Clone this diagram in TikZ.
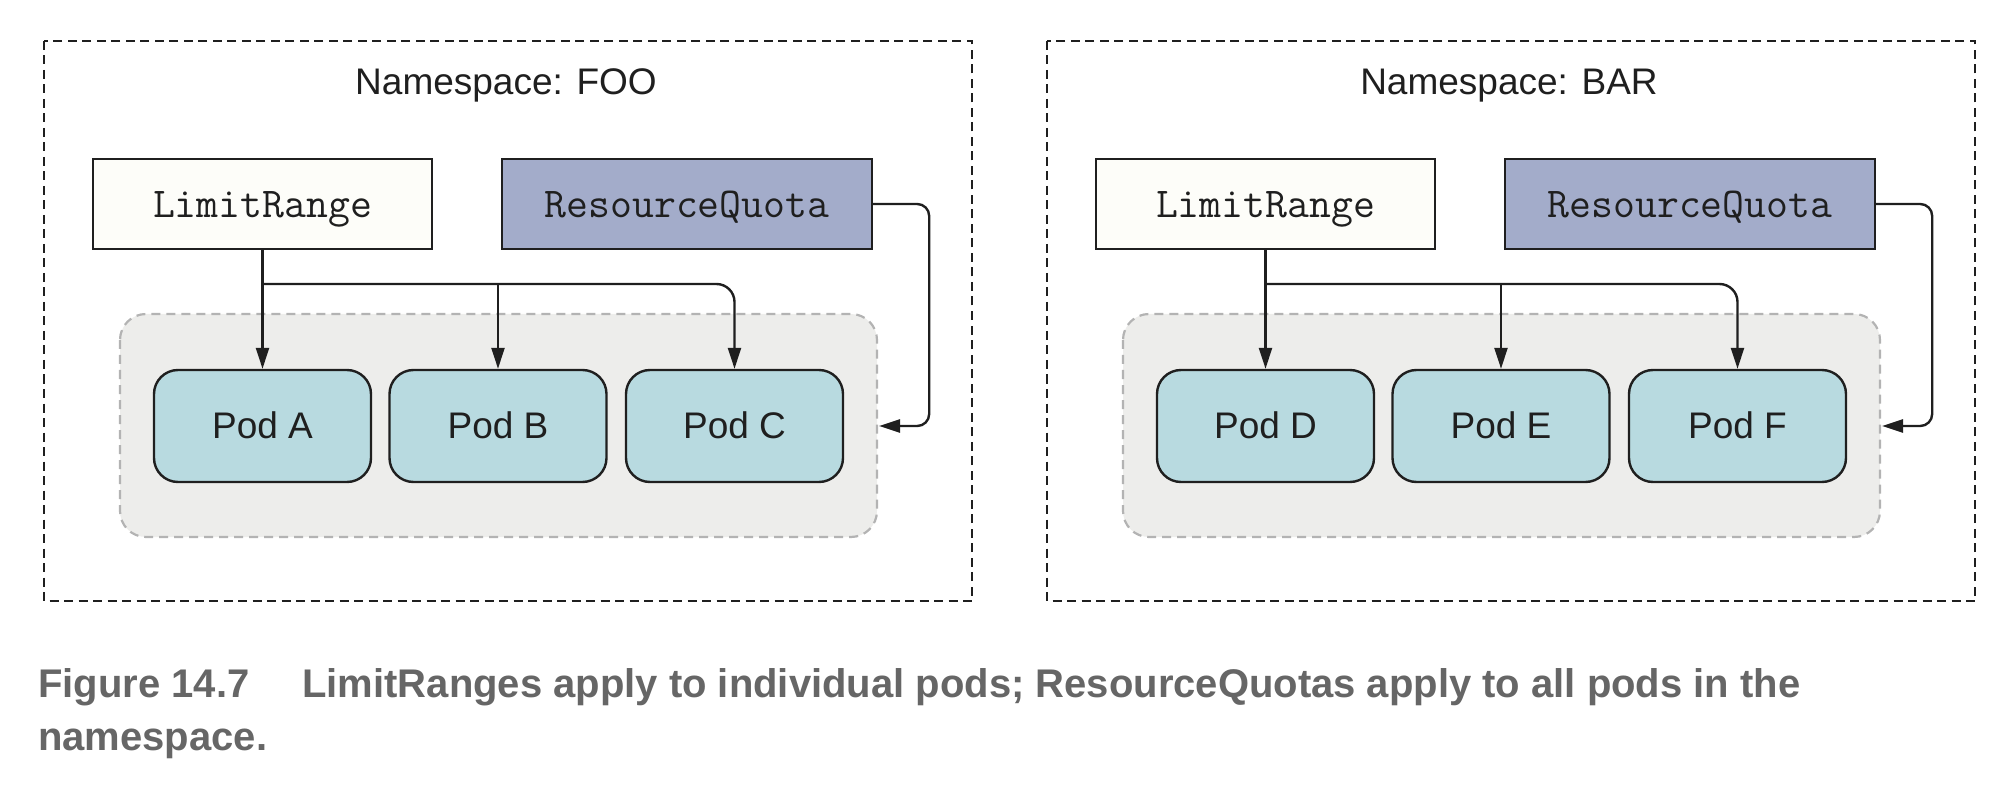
\documentclass[tikz,border=0pt]{standalone}
\usepackage{fontspec}
\setmainfont{Liberation Sans}
\newfontfamily\capfam{Liberation Sans}
\usetikzlibrary{arrows.meta}
\definecolor{lrfill}{HTML}{FDFDF9}
\definecolor{rqfill}{HTML}{A3ACCA}
\definecolor{podfill}{HTML}{B8DAE0}
\definecolor{grpfill}{HTML}{EDEDEB}
\definecolor{grpline}{HTML}{B3B3B3}
\definecolor{ink}{HTML}{1F1F1F}
\definecolor{capcol}{HTML}{666666}
\tikzset{
  x=1pt, y=-1pt,
  outerbox/.style={draw=ink, line width=2.2pt, dash pattern=on 9pt off 5.5pt},
  titletext/.style={inner sep=0pt, font=\fontsize{37}{44}\selectfont, text=ink, anchor=base},
  crdbox/.style={draw=ink, line width=2.4pt, inner sep=0pt, text height=59pt, text depth=31pt, font=\ttfamily\fontsize{42.5}{48}\selectfont, text=ink},
  grpbox/.style={draw=grpline, fill=grpfill, line width=2.2pt, dash pattern=on 9pt off 6pt, rounded corners=26pt},
  podbox/.style={draw=ink, fill=podfill, line width=2.4pt, rounded corners=24pt, inner sep=0pt, minimum width=217pt, text height=68pt, text depth=44pt, font=\fontsize{37}{44}\selectfont, text=ink},
  arr/.style={draw=ink, line width=2.4pt, -{Triangle[length=21pt,width=13pt]}},
  captext/.style={inner sep=0pt, anchor=base west, text=capcol, font=\capfam\bfseries\fontsize{40}{50}\selectfont}
}
\begin{document}
\begin{tikzpicture}
\path[use as bounding box] (0,0) rectangle (2014,786);
% ---------- FOO ----------
\draw[outerbox] (44,41) rectangle (972,601);
\node[titletext] (tfoo) at (506,95) {Namespace: FOO};
\draw[grpbox] (120,314) rectangle (877,537);
\node[crdbox, fill=lrfill, minimum width=339pt] (lrA) at (262.5,204) {LimitRange};
\node[crdbox, fill=rqfill, minimum width=370pt] (rqA) at (687,204) {ResourceQuota};
\node[podbox] (podA) at (262.5,426) {Pod A};
\node[podbox] (podB) at (498,426) {Pod B};
\node[podbox] (podC) at (734.5,426) {Pod C};
\coordinate (brA) at (262.5,284);
\coordinate (rqtA) at (879,426);
\draw[arr] (lrA.south) -- (podA.north);
\draw[arr, rounded corners=18pt] (brA) -| (podC.north);
\draw[arr] (podB.north |- brA) -- (podB.north);
\draw[arr, rounded corners=12pt] (rqA.east) -- ++(56,0) |- (rqtA);
% ---------- BAR ----------
\begin{scope}[xshift=1003pt]
\draw[outerbox] (44,41) rectangle (972,601);
\node[titletext] (tbar) at (506,95) {Namespace: BAR};
\draw[grpbox] (120,314) rectangle (877,537);
\node[crdbox, fill=lrfill, minimum width=339pt] (lrB) at (262.5,204) {LimitRange};
\node[crdbox, fill=rqfill, minimum width=370pt] (rqB) at (687,204) {ResourceQuota};
\node[podbox] (podD) at (262.5,426) {Pod D};
\node[podbox] (podE) at (498,426) {Pod E};
\node[podbox] (podF) at (734.5,426) {Pod F};
\coordinate (brB) at (262.5,284);
\coordinate (rqtB) at (879,426);
\draw[arr] (lrB.south) -- (podD.north);
\draw[arr, rounded corners=18pt] (brB) -| (podF.north);
\draw[arr] (podE.north |- brB) -- (podE.north);
\draw[arr, rounded corners=12pt] (rqB.east) -- ++(56,0) |- (rqtB);
\end{scope}
% ---------- caption ----------
\node[captext] (cap1) at (38,697) {Figure 14.7\hspace{53pt}LimitRanges apply to individual pods; ResourceQuotas apply to all pods in the};
\node[captext] (cap2) at (38,750) {namespace.};
\end{tikzpicture}
\end{document}
